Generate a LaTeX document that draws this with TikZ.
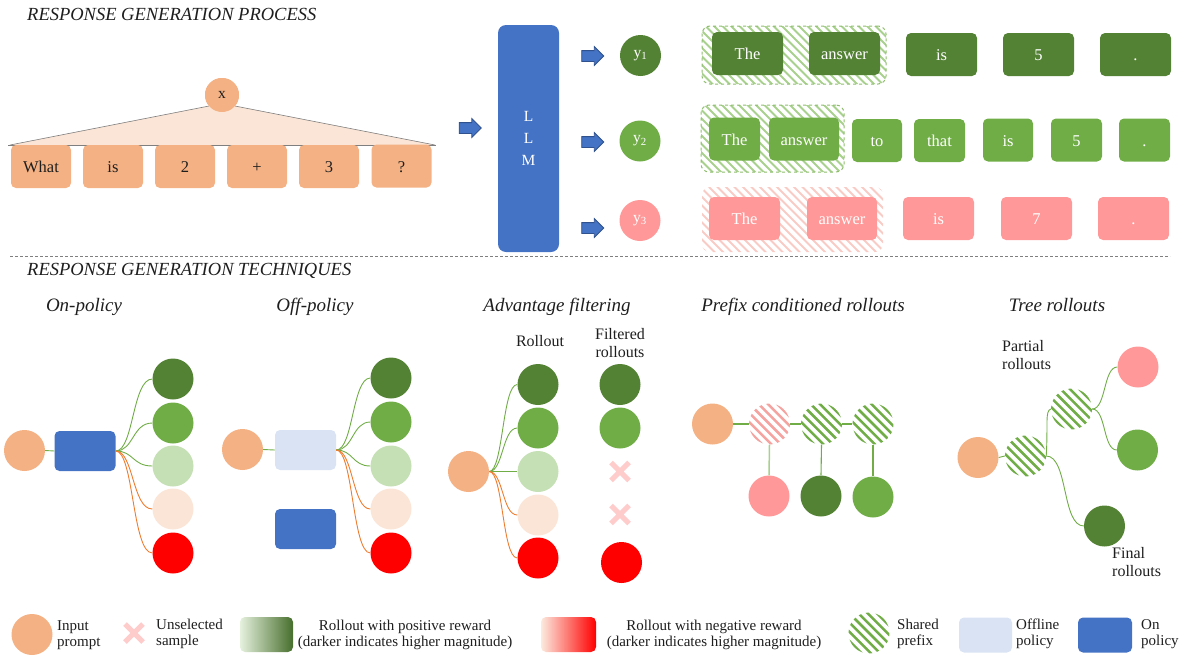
\documentclass[tikz,border=0pt]{standalone}
\usepackage{fontspec}
\setmainfont{Liberation Serif}
\usetikzlibrary{shapes.arrows,shapes.misc}

\definecolor{peach}{HTML}{F4B183}
\definecolor{peachlt}{HTML}{FBE5D6}
\definecolor{gdark}{HTML}{548235}
\definecolor{gmid}{HTML}{70AD47}
\definecolor{glight}{HTML}{C5E0B4}
\definecolor{ghatch}{HTML}{A9D18E}
\definecolor{pinkc}{HTML}{FF9999}
\definecolor{pinkhatch}{HTML}{F8CBC4}
\definecolor{pinkstripe}{HTML}{F4A3A0}
\definecolor{redc}{HTML}{FF0000}
\definecolor{llmblue}{HTML}{4472C4}
\definecolor{blueedge}{HTML}{2F528F}
\definecolor{offblue}{HTML}{DAE3F3}
\definecolor{orangeln}{HTML}{ED7D31}
\definecolor{crosspink}{HTML}{FFCCCC}
\definecolor{txt}{HTML}{1E1E1E}
\definecolor{edgegray}{HTML}{7F7F7F}

\newcommand\fsz[2]{\fontsize{#1}{#2}\selectfont}

\begin{document}
\begin{tikzpicture}[x=1pt,y=-1pt,
  every node/.style={inner sep=0pt, text=txt},
  tokbox/.style={rounded corners=5pt, minimum height=43pt, font=\fsz{16.5}{18}, text=white,
    text height=12pt, text depth=0pt},
  peachtok/.style={tokbox, fill=peach, text=txt, minimum width=60pt},
  tokA/.style={tokbox, fill=gdark, minimum width=#1}, tokA/.default=71pt,
  tokB/.style={tokbox, fill=gmid, minimum width=#1}, tokB/.default=51pt,
  tokC/.style={tokbox, fill=pinkc, minimum width=#1}, tokC/.default=71pt,
  % diagonal stripes clipped to a box
  hbox/.style={rounded corners=8pt, path picture={
    \foreach \s in {-17,...,17}
      \draw[draw=#1, solid, line width=1.9pt] (path picture bounding box.center) ++(\s*8.5-45,-45) -- ++(90,90);}},
  ball/.style={circle, minimum size=41pt, fill=#1},
  % diagonal stripes clipped to a disc
  hball/.style={circle, minimum size=41pt, path picture={
    \foreach \s in {-6,...,6}
      \draw[draw=#1, solid, line width=2.5pt] (path picture bounding box.center) ++(\s*9.2-30,-30) -- ++(60,60);}},
  polbox/.style={rounded corners=5pt, minimum width=61pt, minimum height=40pt, fill=#1},
  blockarrow/.style={single arrow, fill=llmblue, draw=blueedge, line width=0.8pt,
    minimum height=22pt, minimum width=18pt, inner ysep=5pt, single arrow head extend=4pt},
  xmark/.style={cross out, draw=crosspink, line width=5pt, minimum size=13pt},
  glink/.style={draw=gmid, line width=0.9pt},
  olink/.style={draw=orangeln, line width=0.9pt},
  heading/.style={font=\fsz{18.5}{20}\itshape, anchor=base west},
  sub/.style={font=\fsz{19}{21}\itshape, anchor=base},
  lbl/.style={font=\fsz{16}{18}, align=left},
  leg/.style={font=\fsz{15}{16}, align=left, anchor=west},
  legc/.style={font=\fsz{15}{16}, align=center},
  ytxt/.style={font=\fsz{15.5}{16}, text=white}
]
\useasboundingbox (0,0) rectangle (1183,656);

% ---------- headings ----------
\node[heading] (h1) at (27,20) {RESPONSE GENERATION PROCESS};
\node[heading] (h2) at (27,275) {RESPONSE GENERATION TECHNIQUES};

% ---------- prompt tokens ----------
\node[circle, minimum size=34pt, fill=peach, font=\fsz{15.5}{18}] (xin) at (222,95) {x};
\fill[peachlt] (10,145) -- (xin.220) -- (xin.-40) -- (435,145) -- cycle;
\draw[edgegray, line width=0.6pt] (10,145) -- (xin.220);
\draw[edgegray, line width=0.6pt] (xin.-40) -- (435,145);
\draw[edgegray, line width=0.6pt] (8,145) -- (436,145);
\node[circle, minimum size=34pt, fill=peach, font=\fsz{15.5}{18}] at (222,95) {x};

\node[peachtok] (p1) at (41,166.5) {What};
\node[peachtok] (p2) at (113,166.5) {is};
\node[peachtok] (p3) at (185,166.5) {2};
\node[peachtok] (p4) at (257,166.5) {+};
\node[peachtok] (p5) at (329,166.5) {3};
\node[peachtok] (p6) at (401.5,166) {?};

% ---------- model ----------
\node[blockarrow] (a0) at (467.5,128) {};
\node[rounded corners=8pt, fill=llmblue, minimum width=61pt, minimum height=227pt,
      align=center, font=\fsz{15.5}{22}, text=white] (llm) at (528.5,138.5) {L\\L\\M};
\node[blockarrow] (a1) at (590,56) {};
\node[blockarrow] (a2) at (590,142) {};
\node[blockarrow] (a3) at (590,228) {};

\node[ball=gdark, ytxt] (y1) at (640.5,55.5) {y\textsubscript{1}};
\node[ball=gmid, ytxt] (y2) at (640,141) {y\textsubscript{2}};
\node[ball=pinkc, ytxt] (y3) at (640,220.5) {y\textsubscript{3}};

% ---------- responses ----------
\node[hbox=ghatch, draw=gmid!80, dashed, line width=1pt, minimum width=184pt, minimum height=58pt] (pre1) at (794,55) {};
\node[tokA] (r11) at (747.5,53.5) {The};
\node[tokA] (r12) at (844.5,53.5) {answer};
\node[tokA] (r13) at (941.5,54.5) {is};
\node[tokA] (r14) at (1038.5,54.5) {5};
\node[tokA] (r15) at (1135.5,54.5) {.};

\node[hbox=ghatch, draw=gmid!80, dashed, line width=1pt, minimum width=143pt, minimum height=67pt] (pre2) at (772.5,138.5) {};
\node[tokB] (r21) at (734.5,139) {The};
\node[tokB=70pt] (r22) at (804,139) {answer};
\node[tokB=50pt] (r23) at (877,140.5) {to};
\node[tokB] (r24) at (939.5,140.5) {that};
\node[tokB=50pt] (r25) at (1008,140) {is};
\node[tokB] (r26) at (1076.5,140) {5};
\node[tokB] (r27) at (1144.5,140) {.};

\node[hbox=pinkhatch, minimum width=181pt, minimum height=65pt] (pre3) at (792.5,219.5) {};
\node[tokC] (r31) at (744.5,218.5) {The};
\node[tokC=70pt] (r32) at (842,218.5) {answer};
\node[tokC] (r33) at (938.5,218.5) {is};
\node[tokC] (r34) at (1036.5,218.5) {7};
\node[tokC] (r35) at (1133.5,218.5) {.};

% ---------- separator ----------
\draw[edgegray, dash pattern=on 3pt off 2pt, line width=0.8pt] (10,256) -- (1170,256);

% ---------- technique titles ----------
\node[sub] (s1) at (84,311) {On-policy};
\node[sub] (s2) at (315,311) {Off-policy};
\node[sub] (s3) at (557,311) {Advantage filtering};
\node[sub] (s4) at (803,311) {Prefix conditioned rollouts};
\node[sub] (s5) at (1057,311) {Tree rollouts};

% ---------- on-policy ----------
\node[ball=peach] (on0) at (24.5,450.5) {};
\node[polbox=llmblue] (onp) at (85,451) {};
\draw[glink] (on0.east) -- (onp.west);
\node[ball=gdark] (on1) at (173,379) {};
\node[ball=gmid] (on2) at (173,423) {};
\node[ball=glight] (on3) at (173,466) {};
\node[ball=peachlt] (on4) at (173,509) {};
\node[ball=redc] (on5) at (173,553) {};
\foreach \k in {1,2,3}
  \draw[glink] (onp.east) .. controls +(18,0) and +(-20,0) .. (on\k.west);
\foreach \k in {4,5}
  \draw[olink] (onp.east) .. controls +(18,0) and +(-20,0) .. (on\k.west);

% ---------- off-policy ----------
\node[ball=peach] (of0) at (242.5,449.5) {};
\node[polbox=offblue] (ofp) at (305.5,450) {};
\node[polbox=llmblue] (ofq) at (305.5,529) {};
\draw[glink] (of0.east) -- (ofp.west);
\node[ball=gdark] (of1) at (391,378) {};
\node[ball=gmid] (of2) at (391,422) {};
\node[ball=glight] (of3) at (391,466) {};
\node[ball=peachlt] (of4) at (391,509) {};
\node[ball=redc] (of5) at (391,553) {};
\foreach \k in {1,2,3}
  \draw[glink] (ofp.east) .. controls +(17,0) and +(-18,0) .. (of\k.west);
\foreach \k in {4,5}
  \draw[olink] (ofp.east) .. controls +(17,0) and +(-18,0) .. (of\k.west);

% ---------- advantage filtering ----------
\node[lbl] (lr) at (540,341) {Rollout};
\node[lbl, align=center] (lf) at (620,343) {Filtered\\rollouts};
\node[ball=peach] (af0) at (468.5,471.5) {};
\node[ball=gdark] (af1) at (538,384.5) {};
\node[ball=gmid] (af2) at (538,428) {};
\node[ball=glight] (af3) at (538,471.5) {};
\node[ball=peachlt] (af4) at (538,515) {};
\node[ball=redc] (af5) at (538,558) {};
\foreach \k in {1,2,3}
  \draw[glink] (af0.east) .. controls +(14,0) and +(-15,0) .. (af\k.west);
\foreach \k in {4,5}
  \draw[olink] (af0.east) .. controls +(14,0) and +(-15,0) .. (af\k.west);
\node[ball=gdark] (fa1) at (620,384.5) {};
\node[ball=gmid] (fa2) at (620,428) {};
\node[xmark] (fa3) at (620,471.5) {};
\node[xmark] (fa4) at (620,514.5) {};
\node[ball=redc] (fa5) at (621.5,562.5) {};

% ---------- prefix conditioned rollouts ----------
\node[ball=peach] (pc0) at (712.5,424) {};
\node[hball=pinkstripe] (pc1) at (769.5,424) {};
\node[hball=gmid] (pc2) at (821.5,424) {};
\node[hball=gmid] (pc3) at (873,424) {};
\draw[draw=gmid, line width=2pt] (pc0.east) -- (pc1.west);
\draw[draw=gmid, line width=2pt] (pc1.east) -- (pc2.west);
\draw[draw=gmid, line width=2pt] (pc2.east) -- (pc3.west);
\node[ball=pinkc] (pd1) at (769,496) {};
\node[ball=gdark] (pd2) at (821,496) {};
\node[ball=gmid] (pd3) at (873,497) {};
\draw[draw=ghatch, line width=1.5pt] (pc1.south) -- (pd1.north);
\draw[draw=gmid, line width=1.1pt] (pc2.south) -- (pd2.north);
\draw[draw=gmid, line width=2pt] (pc3.south) -- (pd3.north);

% ---------- tree rollouts ----------
\node[lbl, anchor=west] (lp) at (1002,355) {Partial\\rollouts};
\node[ball=peach] (tr0) at (978,457.5) {};
\node[hball=gmid] (th1) at (1025.5,456) {};
\node[hball=gmid] (th2) at (1071.5,409) {};
\node[ball=pinkc] (tp) at (1138,367) {};
\node[ball=gmid] (tg) at (1137.5,450) {};
\node[ball=gdark] (td) at (1104.5,526) {};
\node[lbl, anchor=west] (lq) at (1112,562) {Final\\rollouts};
\draw[glink] (tr0.east) -- (th1.west);
\draw[glink] (th1.east) .. controls +(2,-32) and +(-6,2) .. (th2.west);
\draw[glink] (th1.east) .. controls +(22,0) and +(-22,0) .. (td.west);
\draw[glink] (th2.east) .. controls +(14,0) and +(-14,0) .. (tp.west);
\draw[glink] (th2.east) .. controls +(14,0) and +(-14,0) .. (tg.west);

% ---------- legend ----------
\node[ball=peach] (k1) at (32,634.5) {};
\node[leg] (k1t) at (57,635) {Input\\prompt};
\node[xmark] (k2) at (134,633) {};
\node[leg] (k2t) at (156,634) {Unselected\\sample};
\node[rounded corners=5pt, left color=glight!45, right color=gdark!85!black,
      minimum width=53pt, minimum height=35pt] (k3) at (266.5,634.5) {};
\node[legc] (k3t) at (405,634.5) {Rollout with positive reward\\(darker indicates higher magnitude)};
\node[rounded corners=5pt, left color=peachlt!80, right color=redc,
      minimum width=55pt, minimum height=35pt] (k4) at (568.5,634.5) {};
\node[legc] (k4t) at (714,634.5) {Rollout with negative reward\\(darker indicates higher magnitude)};
\node[hball=gmid] (k5) at (869,633) {};
\node[leg] (k5t) at (897,634) {Shared\\prefix};
\node[polbox=offblue, minimum width=53pt, minimum height=35pt] (k6) at (985.5,635) {};
\node[leg] (k6t) at (1016,634) {Offline\\policy};
\node[polbox=llmblue, minimum width=54pt, minimum height=35pt] (k7) at (1105,635) {};
\node[leg] (k7t) at (1141,634) {On\\policy};
\end{tikzpicture}
\end{document}
